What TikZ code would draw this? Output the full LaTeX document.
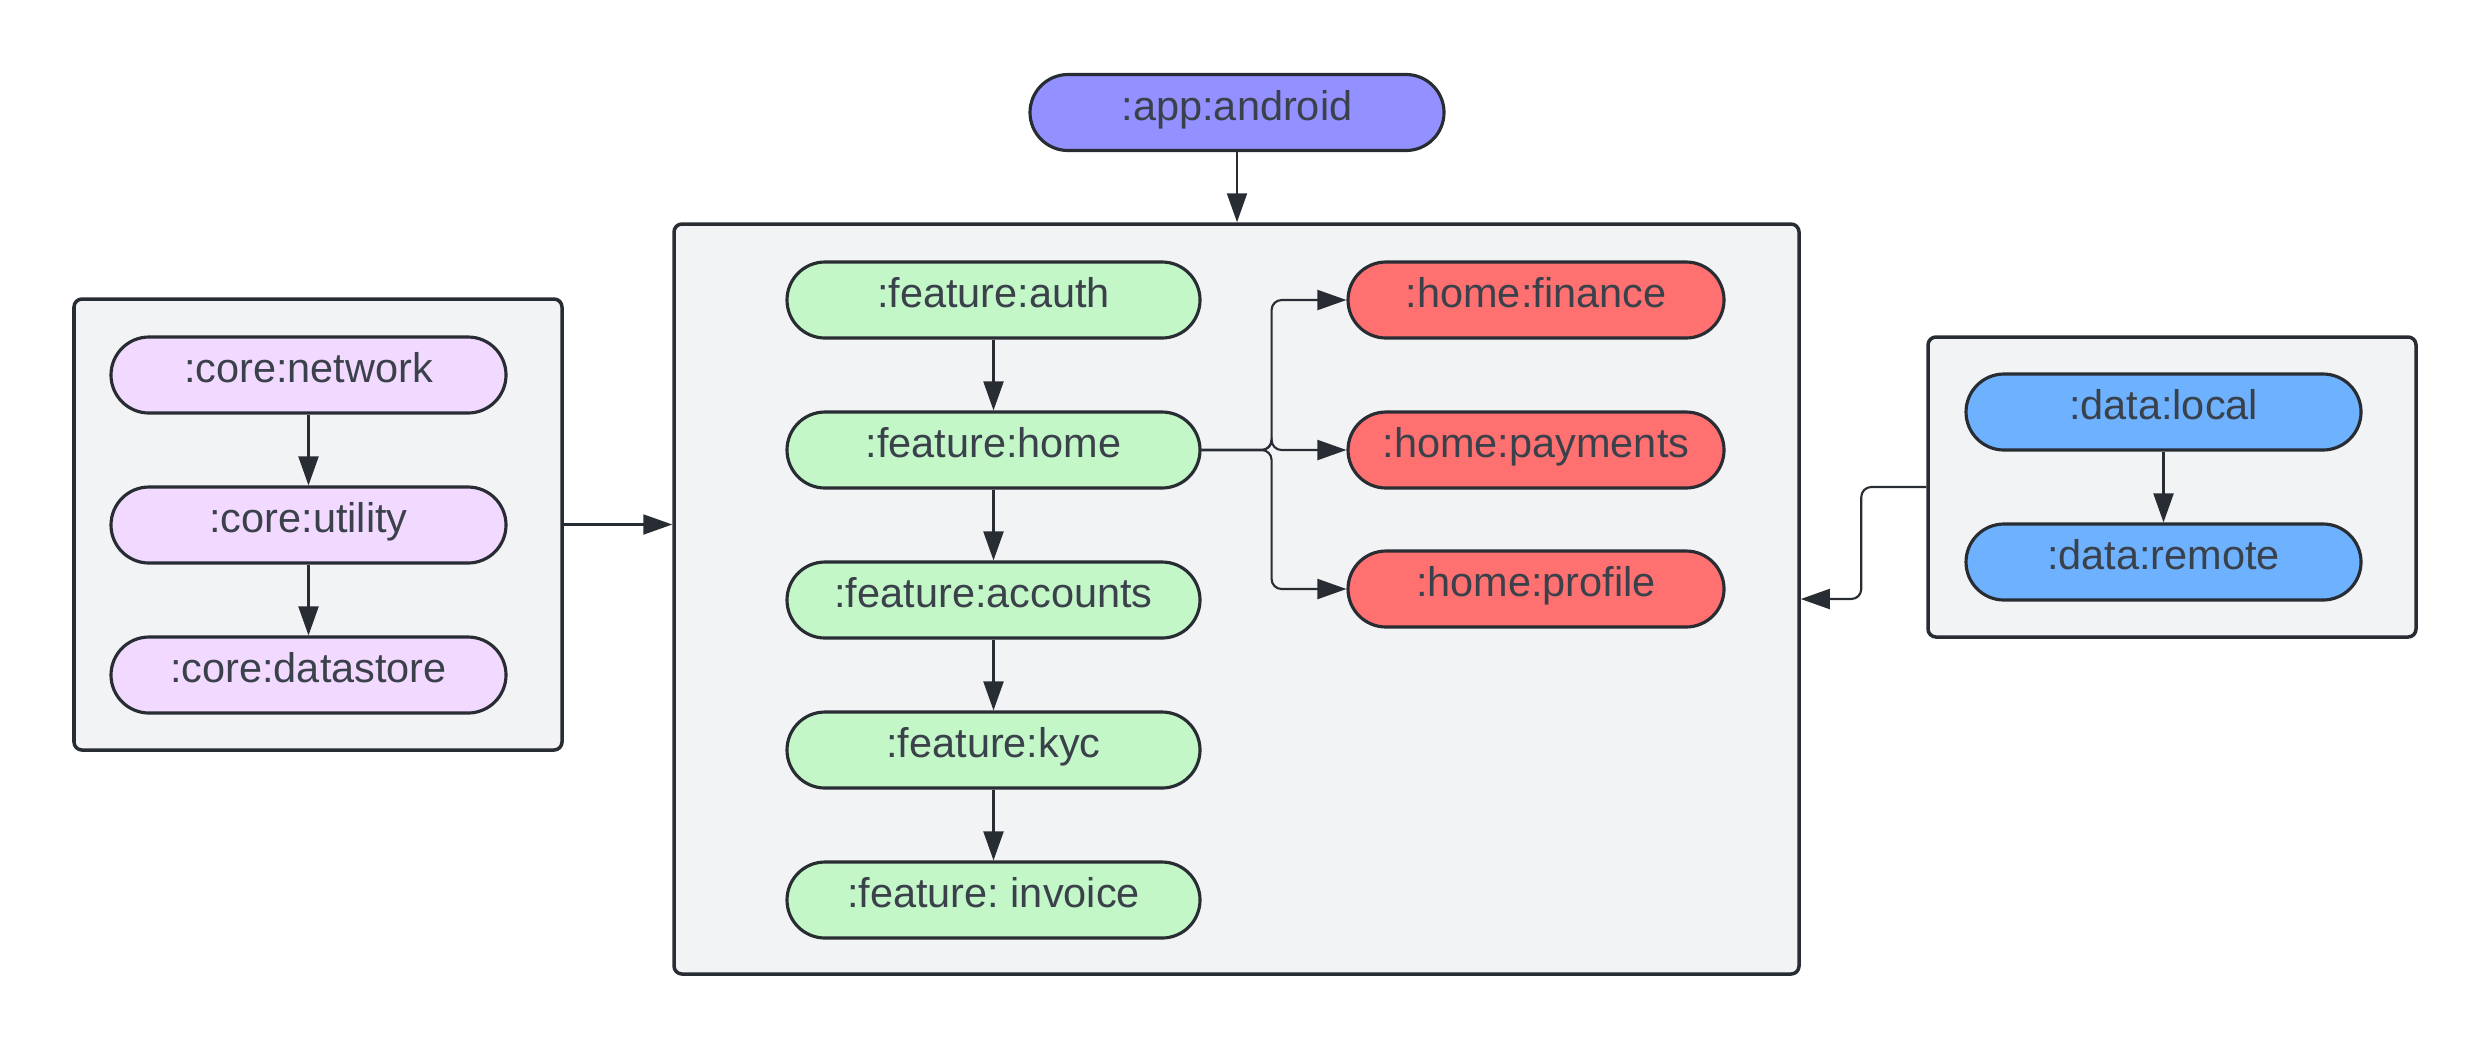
\documentclass[tikz,border=0pt]{standalone}
\usepackage{fontspec}
\setmainfont{Liberation Sans}
\usetikzlibrary{arrows.meta,positioning}
\frenchspacing

\definecolor{linec}{HTML}{282C33}
\definecolor{textc}{HTML}{3A414A}
\definecolor{groupc}{HTML}{F2F3F5}
\definecolor{appc}{HTML}{9391FF}
\definecolor{featc}{HTML}{C3F7C8}
\definecolor{homec}{HTML}{FF7070}
\definecolor{corec}{HTML}{F2D9FF}
\definecolor{datac}{HTML}{6DB1FF}

\tikzset{
  module/.style={draw=linec, line width=0.9pt, rounded corners=0.38cm,
    minimum height=0.76cm, text=textc, text height=0.7em, text depth=0.26em,
    font=\fontsize{11.8}{14}\selectfont},
  group/.style={draw=linec, line width=1pt, fill=groupc, rounded corners=0.08cm},
  dep/.style={draw=linec, line width=0.6pt, -{Triangle[length=0.29cm,width=0.2cm]}}
}

\begin{document}
\begin{tikzpicture}
  \useasboundingbox (0,0) rectangle (24.92,-10.5);
  % containers
  \node[group, minimum width=11.25cm, minimum height=7.5cm] (features) at (12.365,-5.99) {};
  \node[group, minimum width=4.88cm, minimum height=4.51cm] (corebox) at (3.18,-5.245) {};
  \node[group, minimum width=4.88cm, minimum height=3.0cm] (databox) at (21.72,-4.87) {};

  % app
  \node[module, fill=appc, minimum width=4.14cm] (app) at (12.37,-1.125) {:app:android};

  % feature modules
  \node[module, fill=featc, minimum width=4.13cm] (auth) at (9.935,-3.0) {:feature:auth};
  \node[module, fill=featc, minimum width=4.13cm] (home) at (9.935,-4.5) {:feature:home};
  \node[module, fill=featc, minimum width=4.13cm] (accounts) at (9.935,-6.0) {:feature:accounts};
  \node[module, fill=featc, minimum width=4.13cm] (kyc) at (9.935,-7.5) {:feature:kyc};
  \node[module, fill=featc, minimum width=4.13cm] (invoice) at (9.935,-9.0) {:feature: invoice};

  % home modules
  \node[module, fill=homec, minimum width=3.76cm] (finance) at (15.36,-3.0) {:home:finance};
  \node[module, fill=homec, minimum width=3.76cm] (payments) at (15.36,-4.5) {:home:payments};
  \node[module, fill=homec, minimum width=3.76cm] (profile) at (15.36,-5.89) {:home:profile};

  % core modules
  \node[module, fill=corec, minimum width=3.95cm] (network) at (3.085,-3.75) {:core:network};
  \node[module, fill=corec, minimum width=3.95cm] (utility) at (3.085,-5.25) {:core:utility};
  \node[module, fill=corec, minimum width=3.95cm] (datastore) at (3.085,-6.75) {:core:datastore};

  % data modules
  \node[module, fill=datac, minimum width=3.95cm] (local) at (21.635,-4.12) {:data:local};
  \node[module, fill=datac, minimum width=3.95cm] (remote) at (21.635,-5.62) {:data:remote};

  % dependencies
  \draw[dep] (app) -- (app |- features.north);
  \draw[dep] (corebox.east) -- (corebox.east -| features.west);
  \draw[dep, rounded corners=0.1cm] (databox.west) -- ++(-0.65,0) |- (features.east);

  \draw[dep] (auth) -- (home);
  \draw[dep] (home) -- (accounts);
  \draw[dep] (accounts) -- (kyc);
  \draw[dep] (kyc) -- (invoice);

  \draw[dep] (network) -- (utility);
  \draw[dep] (utility) -- (datastore);
  \draw[dep] (local) -- (remote);

  \foreach \m in {finance,payments,profile}
    \draw[dep, rounded corners=0.1cm] (home.east) -- ++(0.7,0) |- (\m.west);
\end{tikzpicture}
\end{document}
